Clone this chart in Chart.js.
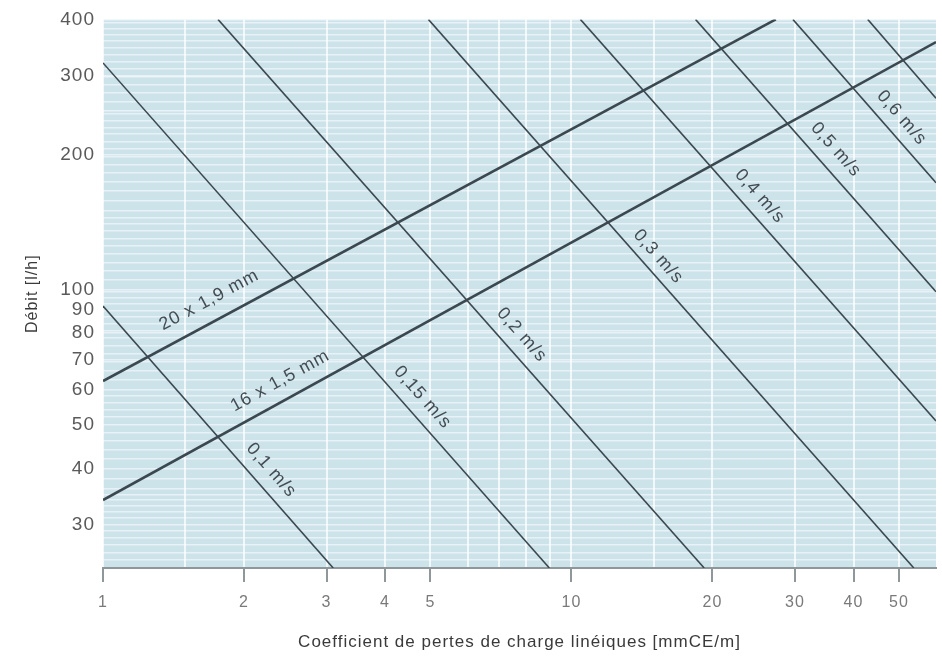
<!DOCTYPE html>
<html>
<head>
<meta charset="utf-8">
<title>Débit / pertes de charge</title>
<script src="https://cdn.jsdelivr.net/npm/chart.js@4/dist/chart.umd.min.js"></script>
<style>
  html, body { margin: 0; padding: 0; background: #ffffff; }
  #wrap { width: 942px; height: 656px; position: relative; }
</style>
</head>
<body>
<div id="wrap"><canvas id="chart"></canvas></div>
<script>
// Pressure-loss coefficient R [mmCE/m] on x, flow rate Q [l/h] on y (both logarithmic)
const X_TICKS = [1, 2, 3, 4, 5, 10, 20, 30, 40, 50];
const X_MINOR = [1.5, 6, 7, 8, 9, 15];
const Y_TICKS = [30, 40, 50, 60, 70, 80, 90, 100, 200, 300, 400];

// Pipe characteristics, endpoints as (R, Q)
const PIPE_NAMES = ['20 x 1,9 mm', '16 x 1,5 mm'];
const PIPE_R = [[1, 27.3], [1, 60]];
const PIPE_Q = [[62.6, 400], [34, 356]];

// Constant-velocity lines, endpoints as (R, Q)
const VEL_NAMES = ['0,1 m/s', '0,15 m/s', '0,2 m/s', '0,3 m/s', '0,4 m/s', '0,5 m/s', '0,6 m/s', '0,7 m/s'];
const VEL_R = [[1, 3.1], [1, 8.97], [1.76, 19.2], [4.95, 53.8], [10.45, 60], [18.4, 60], [29.7, 60], [42.9, 60]];
const VEL_Q = [[92, 24], [320, 24], [400, 24], [400, 24], [400, 51], [400, 99], [400, 173], [400, 267]];

// Where each caption sits: R value of its foot on the line, and distance from the line in px
const PIPE_CAPTION_AT = [1.77, 2.5];
const PIPE_CAPTION_OFF = [21, 19];
const VEL_CAPTION_AT = [2.14, 4.5, 7.33, 14.5, 23.7, 34.2, 47.6, null];
const VEL_CAPTION_OFF = [18, 18, 18, 15, 17, 19, 17, 0];

const FONT = '"Liberation Sans", Arial, sans-serif';

// fine horizontal rulings of the log paper
function paperRulings() {
  const out = [];
  const bands = [[24, 36, 1], [36, 60, 2], [60, 100, 3], [100, 150, 5], [150, 250, 8], [250, 400, 12]];
  bands.forEach(([a, b, s]) => { for (let v = a; v <= b + 1e-9; v += s) out.push(v); });
  return out;
}
const Y_RULINGS = Array.from(new Set([...paperRulings(), ...Y_TICKS])).sort((a, b) => a - b);
const X_ALL = Array.from(new Set([...X_TICKS, ...X_MINOR])).sort((a, b) => a - b);

const LINE_COLOR = '#3b4850';

const datasets = [];
PIPE_NAMES.forEach((name, i) => {
  datasets.push({
    label: name,
    data: [{ x: PIPE_R[i][0], y: PIPE_Q[i][0] }, { x: PIPE_R[i][1], y: PIPE_Q[i][1] }],
    borderColor: LINE_COLOR,
    borderWidth: 2.6,
    pointRadius: 0,
    caption: { text: name, at: PIPE_CAPTION_AT[i], off: PIPE_CAPTION_OFF[i] }
  });
});
VEL_NAMES.forEach((name, i) => {
  datasets.push({
    label: name,
    data: [{ x: VEL_R[i][0], y: VEL_Q[i][0] }, { x: VEL_R[i][1], y: VEL_Q[i][1] }],
    borderColor: LINE_COLOR,
    borderWidth: 1.6,
    pointRadius: 0,
    caption: VEL_CAPTION_AT[i] == null ? null : { text: name, at: VEL_CAPTION_AT[i], off: VEL_CAPTION_OFF[i] }
  });
});

// tinted plot area + text tracking
const paper = {
  id: 'paper',
  beforeDraw(chart) {
    const { ctx, chartArea: a } = chart;
    ctx.letterSpacing = '1px';
    ctx.save();
    ctx.fillStyle = '#cce3ea';
    ctx.fillRect(a.left, a.top, a.right - a.left, a.bottom - a.top);
    ctx.restore();
  }
};

// captions written along the lines
const captions = {
  id: 'captions',
  afterDatasetsDraw(chart) {
    const { ctx } = chart;
    const xs = chart.scales.x, ys = chart.scales.y;
    ctx.save();
    ctx.letterSpacing = '1px';
    ctx.font = '18px ' + FONT;
    ctx.fillStyle = '#434c52';
    ctx.textAlign = 'center';
    ctx.textBaseline = 'middle';
    chart.data.datasets.forEach(ds => {
      const c = ds.caption;
      if (!c) return;
      const [p0, p1] = ds.data;
      const x0 = xs.getPixelForValue(p0.x), y0 = ys.getPixelForValue(p0.y);
      const x1 = xs.getPixelForValue(p1.x), y1 = ys.getPixelForValue(p1.y);
      const fx = xs.getPixelForValue(c.at);
      const t = (fx - x0) / (x1 - x0);
      const fy = y0 + t * (y1 - y0);
      const len = Math.hypot(x1 - x0, y1 - y0);
      const dx = (x1 - x0) / len, dy = (y1 - y0) / len;
      const cx = fx + dy * c.off, cy = fy - dx * c.off;
      ctx.save();
      ctx.translate(cx, cy);
      ctx.rotate(Math.atan2(dy, dx));
      ctx.fillText(c.text, 0, 0);
      ctx.restore();
    });
    ctx.restore();
  }
};

new Chart(document.getElementById('chart'), {
  type: 'line',
  data: { datasets },
  plugins: [paper, captions],
  options: {
    responsive: true,
    maintainAspectRatio: false,
    animation: false,
    devicePixelRatio: 1,
    layout: { padding: { top: 18, right: 6, left: 0, bottom: 0 } },
    plugins: { legend: { display: false }, tooltip: { enabled: false } },
    scales: {
      x: {
        type: 'logarithmic',
        min: 1,
        max: 60,
        afterBuildTicks: s => { s.ticks = X_ALL.map(v => ({ value: v })); },
        afterFit: s => { s.height = 88; },
        ticks: {
          autoSkip: false,
          maxRotation: 0,
          padding: 11,
          color: '#7a7a7a',
          font: { family: FONT, size: 16 },
          callback: v => X_TICKS.includes(v) ? String(v) : ''
        },
        grid: {
          color: 'rgba(255,255,255,0.75)',
          lineWidth: 2,
          tickLength: 14,
          tickWidth: 2,
          tickColor: c => (c.tick && X_TICKS.includes(c.tick.value)) ? '#8f979b' : 'rgba(0,0,0,0)'
        },
        border: { display: true, color: '#8f979b', width: 2 },
        title: {
          display: true,
          text: 'Coefficient de pertes de charge linéiques [mmCE/m]',
          color: '#3a3a3a',
          font: { family: FONT, size: 17 },
          padding: { top: 0, bottom: 3 }
        }
      },
      y: {
        type: 'logarithmic',
        min: 24,
        max: 400,
        afterBuildTicks: s => { s.ticks = Y_RULINGS.map(v => ({ value: v })); },
        afterFit: s => { s.width = 103; },
        ticks: {
          autoSkip: false,
          padding: 8,
          color: '#5a5a5a',
          font: { family: FONT, size: 19 },
          callback: v => Y_TICKS.includes(v) ? String(v) : ''
        },
        grid: {
          color: 'rgba(255,255,255,0.55)',
          lineWidth: 1.5,
          drawTicks: false
        },
        border: { display: false },
        title: {
          display: true,
          text: 'Débit [l/h]',
          color: '#3a3a3a',
          font: { family: FONT, size: 16 },
          padding: { top: 23, bottom: 0 }
        }
      }
    }
  }
});
</script>
</body>
</html>
